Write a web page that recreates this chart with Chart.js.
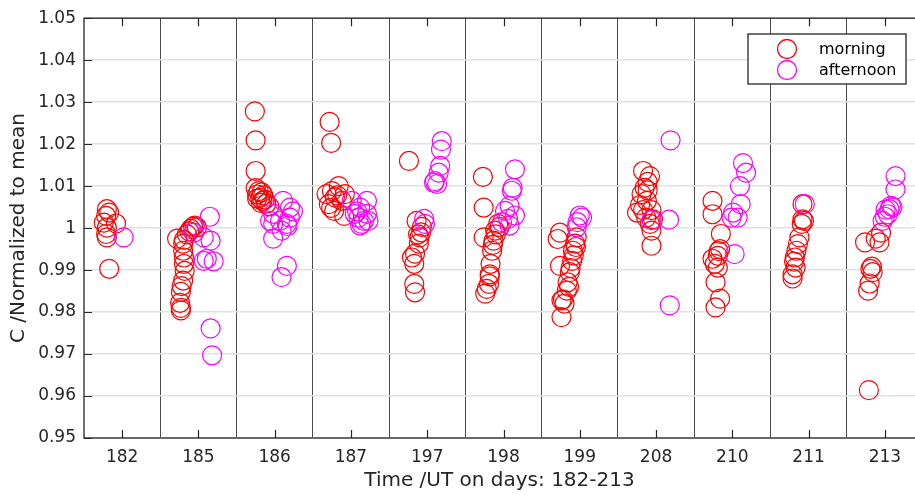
<!DOCTYPE html>
<html>
<head>
<meta charset="utf-8">
<script src="https://cdn.jsdelivr.net/npm/chart.js@4/dist/chart.umd.min.js"></script>
<style>
  html, body { margin: 0; padding: 0; background: #fff; overflow: hidden; }
</style>
</head>
<body>
<canvas id="myChart" width="915" height="495"></canvas>
<script>
const days = ["182", "185", "186", "187", "197", "198", "199", "208", "210", "211", "213"];
const yTicks = [0.95, 0.96, 0.97, 0.98, 0.99, 1.0, 1.01, 1.02, 1.03, 1.04, 1.05];

// x = day index + time offset within the day
const morningX = [
  -0.2, -0.17, -0.21, -0.24, -0.08, -0.2, -0.21, -0.2, -0.17,
  0.72, 0.81, 0.85, 0.88, 0.9, 0.93, 0.95, 0.98, 0.8, 0.8, 0.81, 0.81, 0.82, 0.8, 0.78, 0.77, 0.76, 0.77, 0.77,
  1.74, 1.75, 1.75, 1.75, 1.79, 1.83, 1.77, 1.85, 1.81, 1.87, 1.77, 1.84, 1.89, 1.93, 1.82,
  2.72, 2.74, 2.84, 2.75, 2.68, 2.79, 2.71, 2.78, 2.91, 2.88, 2.92, 2.82, 2.74,
  3.76, 3.86, 3.93, 3.9, 3.89, 3.84, 3.8, 3.83, 3.83, 3.84, 3.88, 3.92,
  4.73, 4.74, 4.74, 4.76, 4.81, 4.82, 4.83, 4.85, 4.87, 4.89, 4.93, 4.78, 4.82, 4.86, 4.9, 4.95,
  5.74, 5.71, 5.74, 5.76, 5.78, 5.8, 5.76, 5.84, 5.87, 5.9, 5.91, 5.94, 5.96, 5.83, 5.86, 5.88, 5.92, 5.95,
  6.83, 6.92, 6.89, 6.85, 6.89, 6.81, 6.88, 6.75, 6.83, 6.94, 6.96, 6.92, 6.94, 6.94, 6.79, 6.87,
  7.74, 7.74, 7.85, 7.84, 7.81, 7.74, 7.81, 7.78, 7.84, 7.78, 7.77, 7.82,
  8.92, 8.92, 8.91, 8.88, 8.86, 8.84, 8.82, 8.81, 8.83, 8.79, 8.79, 8.94,
  9.79, 9.74, 9.93, 9.95, 9.81, 9.84, 9.78, 9.8, 9.83, 9.88
];
const morningY = [
  1.0045, 1.0037, 1.0029, 1.0013, 1.0011, 1.0001, 0.9986, 0.9978, 0.9903,
  0.9975, 0.9972, 0.9985, 0.9992, 0.9998, 1.0003, 1.0006, 1.0002, 0.9963, 0.9946, 0.993, 0.9915, 0.9898, 0.9875, 0.9862, 0.9848, 0.9822, 0.981, 0.9804,
  1.0278, 1.0209, 1.0136, 1.0095, 1.0088, 1.0085, 1.008, 1.0078, 1.0072, 1.0068, 1.007, 1.0065, 1.0058, 1.0052, 1.006,
  1.0253, 1.0203, 1.01, 1.0088, 1.0081, 1.0073, 1.0057, 1.0041, 1.0029, 1.0065, 1.0081, 1.0078, 1.0048,
  1.016, 1.0017, 1.0003, 0.9978, 0.9963, 0.9939, 0.993, 0.9915, 0.9867, 0.9847, 0.9985, 0.999,
  1.0122, 1.0049, 0.9978, 0.9844, 0.9867, 0.989, 0.9915, 0.9946, 0.997, 0.9994, 1.001, 0.9855, 0.9885, 0.996, 0.9985, 1.0003,
  0.9989, 0.9974, 0.991, 0.9828, 0.983, 0.982, 0.9788, 0.9871, 0.9895, 0.9922, 0.9946, 0.9963, 0.9978, 0.9851, 0.986, 0.9905, 0.9935, 0.9955,
  1.0136, 1.0124, 1.011, 1.0096, 1.009, 1.0081, 1.0065, 1.0037, 1.0043, 1.0043, 1.0021, 1.001, 0.9994, 0.9958, 1.0055, 1.0025,
  1.0065, 1.0033, 0.9986, 0.995, 0.9934, 0.9927, 0.9906, 0.9871, 0.9832, 0.9811, 0.9915, 0.9945,
  1.0057, 1.0021, 1.001, 0.9978, 0.9962, 0.9946, 0.993, 0.992, 0.9906, 0.989, 0.988, 1.0017,
  0.9614, 0.9966, 0.9966, 0.9989, 0.9903, 0.9895, 0.9851, 0.9868, 0.9908, 0.9975
];
const afternoonX = [
  0.02,
  1.15, 0.94, 1.07, 1.16, 1.11, 1.2, 1.07, 1.16, 1.18,
  2.11, 2.2, 1.98, 2.07, 2.16, 1.98, 1.94, 2.09, 1.98, 2.16, 2.09, 2.24, 2.2, 2.17,
  3.01, 3.21, 3.12, 3.05, 3.21, 3.17, 3.12, 3.1, 3.23, 3.14, 3.08,
  4.19, 4.18, 4.17, 4.15, 4.1, 4.13, 4.09, 3.96, 3.97,
  5.15, 5.12, 5.11, 5.08, 5.02, 5.15, 5.08, 4.98, 5.06,
  6.0, 5.97, 5.96, 6.03,
  7.19, 7.17, 6.94, 7.18,
  8.14, 8.18, 8.1, 8.11, 8.01, 8.07, 7.99, 8.03,
  8.95,
  10.14, 10.14, 10.08, 10.06, 10.04, 10.0, 9.97, 10.1, 10.01
];
const afternoonY = [
  0.9978,
  1.0027, 0.9989, 0.9978, 0.997, 0.9927, 0.9921, 0.9922, 0.9761, 0.9697,
  1.0065, 1.0049, 1.0034, 1.0017, 1.001, 1.001, 1.0017, 0.9994, 0.9975, 0.991, 0.9883, 1.004, 1.0025, 1.0005,
  1.0065, 1.0065, 1.0049, 1.0034, 1.0034, 1.0017, 1.0006, 1.0025, 1.0017, 1.001, 1.004,
  1.0207, 1.0187, 1.0148, 1.0132, 1.0112, 1.0105, 1.0108, 1.0022, 1.001,
  1.014, 1.0096, 1.0089, 1.0053, 1.0041, 1.003, 1.0006, 1.0014, 1.0022,
  1.003, 1.0014, 1.0002, 1.0025,
  1.0209, 1.002, 1.0019, 0.9816,
  1.0155, 1.0132, 1.01, 1.0057, 1.0037, 1.0025, 1.0025, 0.9938,
  1.0057,
  1.0124, 1.0092, 1.0053, 1.0045, 1.0033, 1.0027, 1.0017, 1.005, 1.0044
];

const seriesNames = ["morning", "afternoon"];
const seriesColors = ["#ff0000", "#ff00ff"];
const textColor = "#262626";
// the original axes box ends a few pixels past the right edge of the picture
const xMin = -0.5;
const xEnd = 10.5;
const xVisibleMax = 10.395;

function toPoints(xs, ys) {
  return xs.map((x, i) => ({ x: x, y: ys[i] }));
}

// axes box, inward tick marks and the legend box
const axesBox = {
  id: "axesBox",
  afterDraw(chart) {
    const ctx = chart.ctx;
    const a = chart.chartArea;
    const xs = chart.scales.x;
    const ys = chart.scales.y;
    const right = xs.getPixelForValue(xEnd);
    ctx.save();
    ctx.strokeStyle = textColor;
    ctx.lineWidth = 1.3;
    ctx.strokeRect(a.left, a.top, right - a.left, a.bottom - a.top);
    ctx.lineWidth = 1.2;
    ctx.beginPath();
    days.forEach((d, i) => {
      const px = Math.round(xs.getPixelForValue(i)) + 0.5;
      ctx.moveTo(px, a.bottom); ctx.lineTo(px, a.bottom - 8);
      ctx.moveTo(px, a.top); ctx.lineTo(px, a.top + 8);
    });
    yTicks.forEach(v => {
      const py = Math.round(ys.getPixelForValue(v)) + 0.5;
      ctx.moveTo(a.left, py); ctx.lineTo(a.left + 8, py);
      ctx.moveTo(right, py); ctx.lineTo(right - 8, py);
    });
    ctx.stroke();

    // legend
    const lx = 748, ly = 34, lw = 158, lh = 50;
    ctx.fillStyle = "#fff";
    ctx.fillRect(lx, ly, lw, lh);
    ctx.strokeStyle = textColor;
    ctx.lineWidth = 1.3;
    ctx.strokeRect(lx, ly, lw, lh);
    ctx.font = "16px 'DejaVu Sans'";
    ctx.textBaseline = "middle";
    ctx.textAlign = "left";
    seriesNames.forEach((name, i) => {
      const cy = ly + 15 + i * 21;
      ctx.beginPath();
      ctx.arc(lx + 39, cy, 9.5, 0, Math.PI * 2);
      ctx.strokeStyle = seriesColors[i];
      ctx.lineWidth = 1.3;
      ctx.stroke();
      ctx.fillStyle = "#000";
      ctx.fillText(name, lx + 71, cy + 1);
    });
    ctx.restore();
  }
};

const config = {
  type: "scatter",
  data: {
    datasets: [
      {
        label: seriesNames[0],
        data: toPoints(morningX, morningY),
        borderColor: seriesColors[0],
        backgroundColor: "transparent",
        pointRadius: 9.5,
        borderWidth: 1.2,
        order: 2,
      },
      {
        label: seriesNames[1],
        data: toPoints(afternoonX, afternoonY),
        borderColor: seriesColors[1],
        backgroundColor: "transparent",
        pointRadius: 9.5,
        borderWidth: 1.2,
        order: 1,
      },
    ],
  },
  options: {
    responsive: false,
    animation: false,
    layout: { autoPadding: false, padding: { left: 0, right: 0, top: 16, bottom: 0 } },
    plugins: {
      legend: { display: false },
      tooltip: { enabled: false },
    },
    scales: {
      x: {
        type: "linear",
        min: xMin,
        max: xVisibleMax,
        afterBuildTicks: (scale) => {
          const t = [];
          for (let v = xMin; v < xVisibleMax; v += 0.5) t.push({ value: v });
          scale.ticks = t;
        },
        afterFit: (scale) => { scale.height = 57; },
        ticks: {
          autoSkip: false,
          maxRotation: 0,
          padding: 9,
          color: textColor,
          font: { family: "'DejaVu Sans'", size: 17 },
          callback: (v) => (Number.isInteger(v) ? days[v] : ""),
        },
        grid: {
          drawTicks: false,
          lineWidth: 1,
          color: (c) => {
            const v = c.tick ? c.tick.value : 0;
            return (!Number.isInteger(v) && v > xMin) ? "#4a4a4a" : "transparent";
          },
        },
        border: { display: false },
        title: {
          display: true,
          text: "Time /UT on days: 182-213",
          color: textColor,
          font: { family: "'DejaVu Sans'", size: 20 },
          padding: { top: 0, bottom: 2 },
        },
      },
      y: {
        min: 0.95,
        max: 1.05,
        afterBuildTicks: (scale) => {
          scale.ticks = yTicks.map(v => ({ value: v }));
        },
        afterFit: (scale) => { scale.width = 84; },
        ticks: {
          padding: 8,
          color: textColor,
          font: { family: "'DejaVu Sans'", size: 17 },
          callback: (v) => String(+Number(v).toFixed(2)),
        },
        grid: {
          drawTicks: false,
          color: "#e1e1e1",
          lineWidth: 1.5,
        },
        border: { display: false },
        title: {
          display: true,
          text: "C /Normalized to mean",
          color: textColor,
          font: { family: "'DejaVu Sans'", size: 20 },
          padding: { top: 7, bottom: 0 },
        },
      },
    },
  },
  plugins: [axesBox],
};

const myChart = new Chart(document.getElementById("myChart"), config);
</script>
</body>
</html>
